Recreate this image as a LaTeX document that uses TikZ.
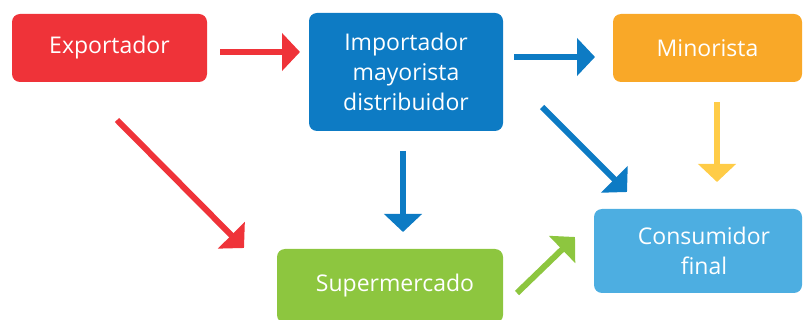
\documentclass[tikz,border=0pt]{standalone}
\usepackage{fontspec}
\setmainfont{Open Sans}
\usetikzlibrary{arrows.meta}

\definecolor{rojo}{HTML}{EF3339}
\definecolor{azul}{HTML}{0D7BC4}
\definecolor{naranja}{HTML}{F9A828}
\definecolor{celeste}{HTML}{4DAEE1}
\definecolor{verde}{HTML}{8DC63F}
\definecolor{amarillo}{HTML}{FFCC47}

\tikzset{
  caja/.style={rounded corners=8pt, text=white, align=center, inner sep=0pt,
    font=\fontsize{23}{30}\selectfont},
  flecha/.style={line width=6pt, -{Triangle[length=18pt,width=37pt]}}
}

\begin{document}
\begin{tikzpicture}[x=1pt,y=-1pt]
\useasboundingbox (0,0) rectangle (803,320);
\clip (0,0) rectangle (803,320);

\node[caja, fill=rojo, minimum width=195pt, minimum height=68pt] (exp) at (109.5,48) {Exportador};
\node[caja, fill=azul, minimum width=194pt, minimum height=118pt] (imp) at (406,72) {Importador\\mayorista\\distribuidor};
\node[caja, fill=naranja, minimum width=189pt, minimum height=68pt] (min) at (707.5,48) {Minorista};
\node[caja, fill=celeste, minimum width=208pt, minimum height=84pt] (con) at (698,251) {\hspace*{12pt}Consumidor\\\hspace*{12pt}final};
\node[caja, fill=verde, minimum width=226pt, minimum height=74pt] (sup) at (390,286) {\hspace*{10pt}Supermercado};

\coordinate (r1) at (220,52);  \coordinate (r2) at (300,52);
\coordinate (b1) at (514,57);  \coordinate (b2) at (595,57);
\coordinate (b3) at (403,151); \coordinate (b4) at (403,232);
\coordinate (r3) at (117,120); \coordinate (r4) at (244,248);
\coordinate (b5) at (542,107); \coordinate (b6) at (627,192);
\coordinate (y1) at (717,102); \coordinate (y2) at (717,182);
\coordinate (v1) at (517,293); \coordinate (v2) at (575,237);

\draw[flecha, rojo] (r1) -- (r2);
\draw[flecha, azul] (b1) -- (b2);
\draw[flecha, azul] (b3) -- (b4);
\draw[flecha, rojo] (r3) -- (r4);
\draw[flecha, azul] (b5) -- (b6);
\draw[flecha, amarillo] (y1) -- (y2);
\draw[flecha, verde] (v1) -- (v2);
\end{tikzpicture}
\end{document}
